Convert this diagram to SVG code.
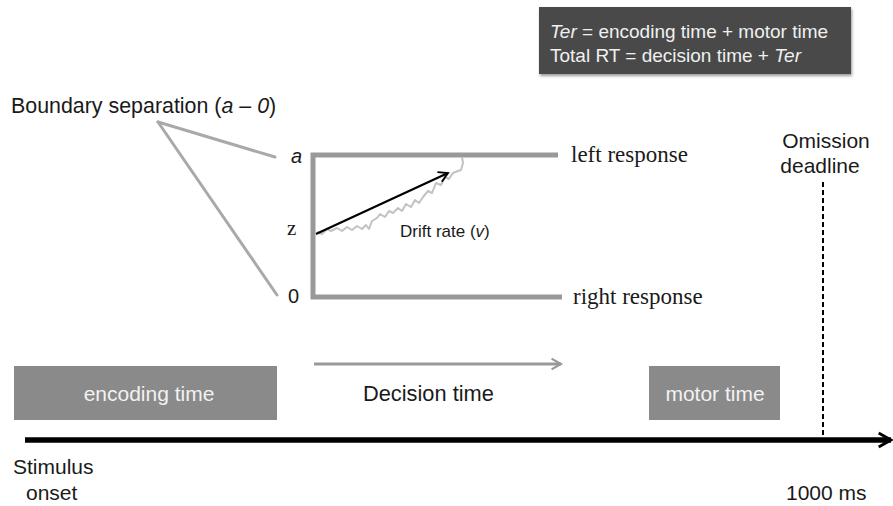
<svg xmlns="http://www.w3.org/2000/svg" width="893" height="506" viewBox="0 0 893 506">
<defs>
<style>
.sans{font-family:"Liberation Sans",Arial,sans-serif;}
.serif{font-family:"Liberation Serif","Times New Roman",serif;}
.lbl{font-size:21px;fill:#1a1a1a;}
.gl{stroke:#a9a9a9;stroke-width:3;fill:none;stroke-linecap:round;}
.bnd{stroke:#999;stroke-width:5;fill:none;}
.box{fill:#8a8a8a;}
.boxt{fill:#f2f2f2;font-size:21px;text-anchor:middle;}
.resp{font-size:23px;fill:#1a1a1a;}
</style>
<marker id="ah" viewBox="0 0 10 10" refX="8" refY="5" markerWidth="3.2" markerHeight="3.2" orient="auto" markerUnits="strokeWidth">
<path d="M1,1 L8,5 L1,9" fill="none" stroke="#000" stroke-width="1.6"/>
</marker>
<marker id="ahg" viewBox="0 0 10 10" refX="8" refY="5" markerWidth="4.5" markerHeight="4.5" orient="auto" markerUnits="strokeWidth">
<path d="M1,1 L8,5 L1,9" fill="none" stroke="#999" stroke-width="1.6"/>
</marker>
<marker id="ahb" viewBox="0 0 10 10" refX="8" refY="5" markerWidth="6" markerHeight="6" orient="auto" markerUnits="strokeWidth">
<path d="M1,1 L8,5 L1,9" fill="none" stroke="#000" stroke-width="1.4"/>
</marker>
<filter id="sh" x="-5%" y="-10%" width="110%" height="130%">
<feDropShadow dx="1" dy="2" stdDeviation="1.5" flood-color="#000" flood-opacity="0.4"/>
</filter>
</defs>
<rect width="893" height="506" fill="#fff"/>

<g id="formula">
<rect x="539" y="7" width="312" height="67" fill="#4a4a4a" filter="url(#sh)"/>
<text class="sans" x="550" y="38" font-size="19" fill="#f0f0f0"><tspan font-style="italic">Ter</tspan> = encoding time + motor time</text>
<text class="sans" x="550" y="62" font-size="19" fill="#f0f0f0">Total RT = decision time + <tspan font-style="italic">Ter</tspan></text>
</g>

<g id="boundary-label">
<text class="sans lbl" x="11" y="113" style="font-size:21.4px">Boundary separation (<tspan font-style="italic">a</tspan> – <tspan font-style="italic">0</tspan>)</text>
</g>

<g id="connectors">
<path class="gl" d="M158,122 L275,157"/>
<path class="gl" d="M158,122 L277,295"/>
<path class="bnd" d="M558,155 L313,155 L313,297 L562,297"/>
<path d="M317,232 L322,234 L327,229 L331,231 L337,228 L342,231 L347,227 L352,230 L357,226 L362,229 L366,225 L369,229 L372,221 L377,218 L380,214 L385,217 L389,211 L393,213 L398,208 L402,211 L406,204 L411,207 L415,200 L419,203 L423,197 L428,191 L432,193 L436,183 L441,185 L445,177 L449,179 L453,173 L458,171 L461,170 L463,163 L462,157" fill="none" stroke="#c2c2c2" stroke-width="2" stroke-linejoin="round"/>
<path d="M316,234 L448,173" stroke="#000" stroke-width="2.2" fill="none" marker-end="url(#ahb)"/>
<path d="M314,364 L561,364" stroke="#999" stroke-width="3" fill="none" marker-end="url(#ahg)"/>
<path d="M823,182 L823,440" stroke="#000" stroke-width="2" stroke-dasharray="5,3" fill="none"/>
<path d="M25,440 L891,440" stroke="#000" stroke-width="5.5" fill="none" marker-end="url(#ah)"/>
</g>

<g id="axis-labels">
<text class="sans" x="291" y="163" font-size="20" font-style="italic" fill="#1a1a1a">a</text>
<text class="serif" x="287" y="235" font-size="21" fill="#1a1a1a">z</text>
<text class="sans" x="288" y="303" font-size="20" fill="#1a1a1a">0</text>
</g>

<g id="left-response">
<text class="serif resp" x="571" y="162">left response</text>
</g>
<g id="right-response">
<text class="serif resp" x="573" y="304">right response</text>
</g>

<g id="drift-label">
<text class="sans" x="400" y="237" font-size="17" fill="#1a1a1a">Drift rate (<tspan font-style="italic">v</tspan>)</text>
</g>

<g id="omission">
<text class="sans lbl" x="826" y="148" text-anchor="middle">Omission</text>
<text class="sans lbl" x="820" y="173" text-anchor="middle">deadline</text>
</g>

<g id="encoding">
<rect class="box" x="14" y="366" width="263" height="54"/>
<text class="sans boxt" x="149" y="401">encoding time</text>
</g>

<g id="decision">
<text class="sans lbl" x="363" y="401" style="font-size:21.8px">Decision time</text>
</g>

<g id="motor">
<rect class="box" x="649" y="366" width="131" height="54"/>
<text class="sans boxt" x="715" y="401">motor time</text>
</g>

<g id="time-labels">
<text class="sans lbl" x="13" y="474">Stimulus</text>
<text class="sans lbl" x="26" y="500">onset</text>
<text class="sans lbl" x="786" y="500">1000 ms</text>
</g>
</svg>
